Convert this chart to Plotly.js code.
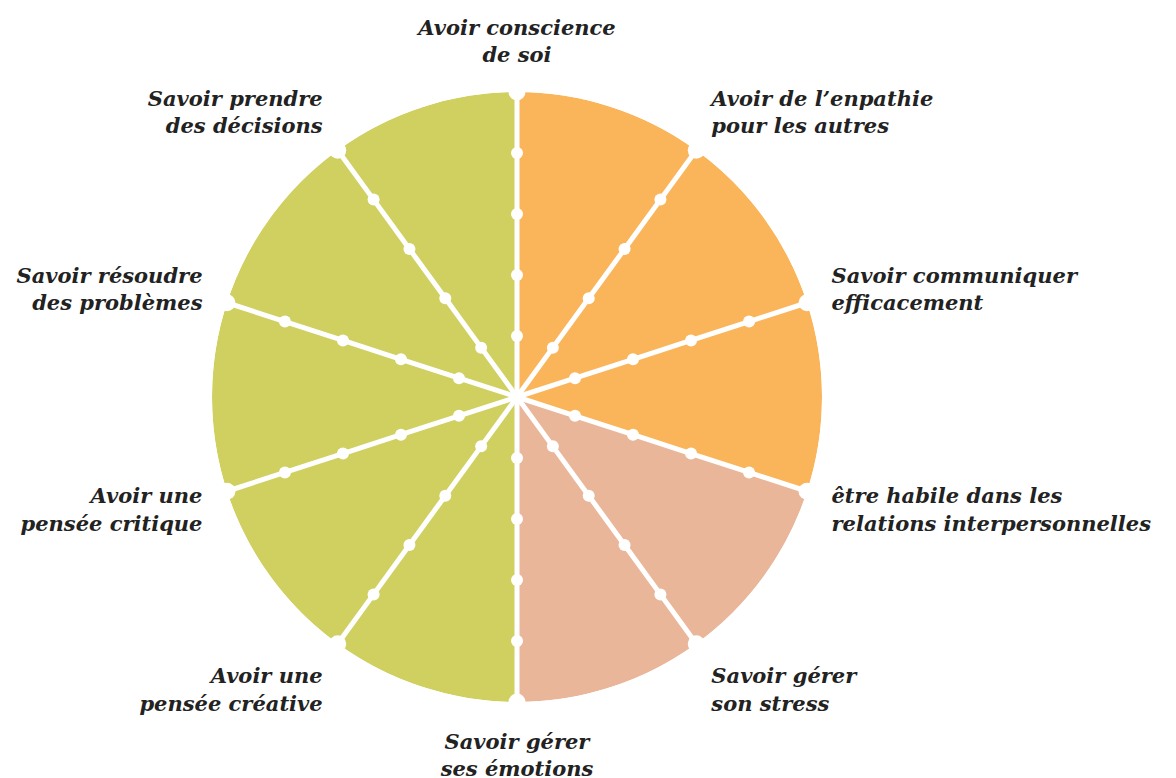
<!DOCTYPE html>
<html>
<head>
<meta charset="utf-8">
<script src="https://cdn.plot.ly/plotly-3.0.1.min.js"></script>
<style>html,body{margin:0;padding:0;background:#fff;}#chart{width:1176px;height:778px;}</style>
</head>
<body>
<div id="chart"></div>
<script>
// Skills (spokes), clockwise from top
const skills = [
  "Avoir conscience<br>de soi",
  "Avoir de l’enpathie<br>pour les autres",
  "Savoir communiquer<br>efficacement",
  "être habile dans les<br>relations interpersonnelles",
  "Savoir gérer<br>son stress",
  "Savoir gérer<br>ses émotions",
  "Avoir une<br>pensée créative",
  "Avoir une<br>pensée critique",
  "Savoir résoudre<br>des problèmes",
  "Savoir prendre<br>des décisions"
];
const spokeAngles = [0, 36, 72, 108, 144, 180, 216, 252, 288, 324];
// Sector wedges (between spokes)
const sectorAngles = [18, 54, 90, 126, 162, 198, 234, 270, 306, 342];
const sectorValues = [5, 5, 5, 5, 5, 5, 5, 5, 5, 5];
const sectorColors = ["#FAB55A","#FAB55A","#FAB55A","#E9B69A","#E9B69A",
                      "#CFD060","#CFD060","#CFD060","#CFD060","#CFD060"];
// Dot levels along each spoke
const levels = [0, 1, 2, 3, 4, 5];
const dotSizes = [0, 12, 12, 12, 12, 17];

const traces = [{
  type: 'barpolar',
  r: sectorValues,
  theta: sectorAngles,
  width: sectorAngles.map(() => 36),
  marker: {color: sectorColors, line: {width: 0}},
  hoverinfo: 'skip'
}];
spokeAngles.forEach(a => {
  traces.push({
    type: 'scatterpolar',
    mode: 'lines+markers',
    r: levels,
    theta: levels.map(() => a),
    line: {color: '#ffffff', width: 5},
    marker: {color: '#ffffff', size: dotSizes, opacity: 1, line: {width: 0}},
    cliponaxis: false,
    hoverinfo: 'skip'
  });
});

const layout = {
  width: 1176, height: 778,
  margin: {l: 0, r: 0, t: 0, b: 0},
  paper_bgcolor: '#ffffff',
  showlegend: false,
  polar: {
    domain: {x: [212/1176, 822/1176], y: [76/778, 686/778]},
    bgcolor: 'rgba(0,0,0,0)',
    bargap: 0,
    radialaxis: {range: [0, 5], visible: false},
    angularaxis: {
      direction: 'clockwise', rotation: 90,
      tickmode: 'array', tickvals: spokeAngles, ticktext: skills,
      showgrid: false, showline: false,
      ticks: 'outside', ticklen: 21, tickcolor: 'rgba(0,0,0,0)',
      tickfont: {family: 'DejaVu Serif', size: 21, color: '#222222', style: 'italic', weight: 'bold'}
    }
  }
};
Plotly.newPlot('chart', traces, layout, {displayModeBar: false, staticPlot: true});
</script>
</body>
</html>
